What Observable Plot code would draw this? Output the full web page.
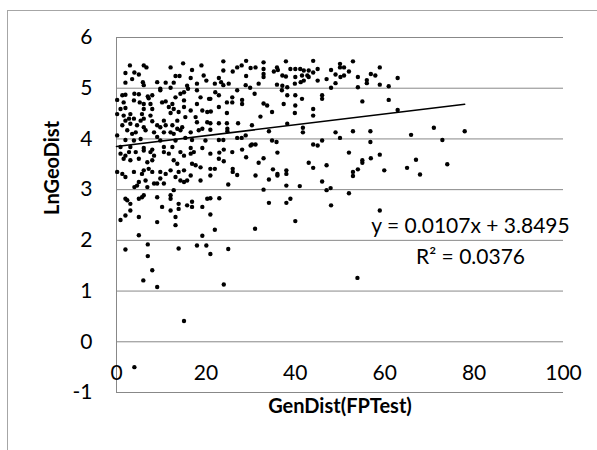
<!DOCTYPE html>
<html><head><meta charset="utf-8">
<script src="https://cdn.jsdelivr.net/npm/d3@7"></script>
<script src="https://cdn.jsdelivr.net/npm/@observablehq/plot@0.6"></script>
<style>
html,body{margin:0;padding:0;background:#fff;overflow:hidden;}
#wrap{position:relative;width:597px;height:450px;}
#chart{position:absolute;left:0;top:0;}
#border{position:absolute;left:7px;top:10px;width:700px;height:600px;border:1px solid #a6a6a6;box-sizing:border-box;pointer-events:none;z-index:2;}
</style></head><body>
<div id="wrap"><div id="chart"></div><div id="border"></div></div>
<script>
// [GenDist(FPTest), LnGeoDist]
const samples = [
[3.0,5.45],[6.1,5.45],[6.7,5.41],[12.1,5.41],[14.9,5.49],[19.0,5.45],[2.0,5.30],[4.0,5.31],[5.0,5.27],[13.2,5.24],[14.1,5.24],[16.9,5.36],[16.6,5.20],[19.5,5.25],[20.1,5.15],[2.0,5.11],[3.5,5.18],[5.9,5.12],[6.1,5.06],[9.1,5.12],[11.0,5.11],[12.8,5.11],[15.8,5.05],[18.0,5.09],[9.8,4.99],[12.1,5.01],
[1.3,4.86],[2.0,4.87],[4.0,4.89],[5.0,4.88],[7.0,4.84],[8.0,4.86],[9.8,4.96],[14.3,4.89],[15.1,4.92],[16.0,4.99],[18.0,4.96],[20.7,4.79],[0.15,4.77],[1.6,4.72],[3.9,4.76],[5.2,4.72],[6.1,4.69],[7.2,4.80],[7.6,4.69],[10.2,4.72],[11.0,4.74],[12.5,4.69],[13.2,4.82],[15.1,4.76],[18.8,4.82],[0.9,4.59],[2.0,4.61],[6.1,4.59],[8.0,4.59],[11.7,4.63],[12.8,4.59],[13.9,4.53],[15.1,4.63],[18.0,4.69],[0.15,4.49],[1.6,4.46],[3.1,4.49],[5.7,4.49],[7.6,4.46],[12.1,4.51],[13.6,4.36],[16.6,4.56],[19.2,4.56],[20.3,4.53],[2.0,4.36],[2.8,4.40],[3.9,4.40],[5.4,4.36],[6.1,4.40],[8.0,4.35],[10.6,4.36],[15.4,4.43],[17.7,4.43],[1.3,4.27],[3.1,4.30],[4.6,4.27],[6.1,4.23],[9.1,4.27],[9.8,4.23],[11.0,4.27],[12.5,4.27],[13.6,4.20],[14.7,4.23],[18.0,4.33],[20.3,4.33],[0.15,4.07],[2.4,4.17],[3.5,4.10],[4.3,4.13],[6.5,4.17],[8.4,4.13],[10.6,4.13],[12.1,4.13],[12.8,4.10],[14.3,4.17],[16.6,4.13],[18.4,4.17],[19.2,4.20],[2.0,3.98],[3.9,3.97],[5.4,4.00],[9.1,4.04],[9.8,3.97],[13.2,3.97],[15.4,4.02],[16.9,3.98],[19.9,3.97],
[0.9,3.84],[3.1,3.84],[6.1,3.82],[8.0,3.79],[10.6,3.84],[12.5,3.84],[16.6,3.82],[19.2,3.82],
[0.9,3.71],[2.0,3.67],[2.8,3.74],[4.3,3.74],[6.1,3.77],[7.6,3.74],[8.4,3.67],[10.6,3.74],[11.7,3.71],[14.3,3.74],[15.1,3.67],[16.6,3.71],[17.3,3.74],[1.6,3.61],[3.1,3.58],[5.0,3.61],[6.9,3.54],[8.0,3.58],[12.8,3.58],[13.6,3.51],[16.9,3.51],[17.7,3.48],[18.8,3.44],[0.15,3.35],[1.3,3.31],[2.0,3.25],[3.9,3.35],[6.1,3.38],[7.2,3.41],[8.0,3.35],[9.8,3.35],[11.0,3.31],[12.1,3.38],[13.2,3.25],[13.9,3.35],[15.1,3.38],[14.3,3.18],[15.1,3.15],[15.8,3.18],[16.6,3.28],[18.8,3.18],[5.0,3.15],[6.5,3.18],[8.4,3.12],[9.1,3.12],[9.8,3.22],[10.6,3.12],[4.0,3.05],[4.6,3.08],[6.9,3.05],[5.7,3.31],
[12.8,2.99],[2.0,2.82],[2.4,2.79],[3.1,2.72],[5.0,2.82],[5.7,2.85],[6.1,2.89],[9.1,2.85],[12.1,2.89],[12.1,2.82],[13.9,2.72],[10.2,2.66],[12.1,2.59],[13.9,2.62],[15.8,2.69],[16.9,2.76],[16.9,2.66],[19.2,2.66],[20.3,2.82],[2.0,2.49],[3.1,2.59],[0.9,2.40],[5.0,2.46],[9.1,2.36],[13.2,2.46],[13.2,2.30],[5.0,2.10],[19.2,2.09],
[2.0,1.82],[7.0,1.92],[7.0,1.69],[8.0,1.41],[6.0,1.21],[9.1,1.08],[13.9,1.84],[18.0,1.90],[20.1,1.90],[21.0,1.73],[25.0,1.83],[24.0,1.13],[15.1,0.41],[4.0,-0.50],[22.0,2.21],[31.0,2.23],
[23.9,5.53],[23.9,5.35],[26.0,5.33],[27.0,5.41],[28.0,5.45],[29.0,5.54],[30.0,5.40],[31.1,5.41],[32.9,5.51],[32.9,5.38],[32.9,5.28],[32.9,5.22],[35.2,5.33],[35.9,5.41],[36.1,5.36],[37.9,5.53],[38.9,5.38],[40.0,5.38],[41.1,5.38],[41.9,5.35],[37.1,5.25],[37.9,5.23],[40.0,5.22],[41.5,5.25],[41.9,5.15],[22.9,5.20],[22.0,5.09],[23.4,5.12],[23.9,5.06],[25.1,5.09],[29.0,5.24],[28.9,5.06],[29.9,5.01],[31.8,5.09],[35.9,5.07],[37.1,5.05],[38.2,5.02],[39.9,5.09],[41.2,5.12],
[22.1,4.92],[22.9,4.86],[21.0,4.79],[30.9,4.89],[27.0,4.96],[37.0,4.96],[38.2,4.86],[40.0,4.86],[41.5,4.79],[25.9,4.82],[25.9,4.72],[24.7,4.72],[28.1,4.77],[28.1,4.69],[22.9,4.63],[32.9,4.70],[33.7,4.66],[37.4,4.69],[40.0,4.66],[24.7,4.51],[34.8,4.53],[39.9,4.51],[21.1,4.54],[32.2,4.44],[21.0,4.31],[22.9,4.31],[24.7,4.31],[27.2,4.31],[24.8,4.20],[24.8,4.15],[30.3,4.27],[34.1,4.15],[38.2,4.30],[41.7,4.22],[41.7,4.13],[21.0,4.18],
[22.9,3.98],[23.9,3.98],[27.0,4.02],[28.0,4.02],[28.9,4.07],[34.8,3.97],[35.8,3.94],[30.3,3.89],[31.1,3.89],
[21.0,3.71],[23.0,3.73],[24.0,3.79],[25.9,3.74],[28.1,3.79],[30.0,3.87],[36.0,3.73],[22.9,3.61],[24.0,3.56],[29.0,3.64],[32.9,3.62],[31.8,3.53],[21.0,3.41],[22.0,3.41],[21.0,3.28],[26.0,3.41],[26.0,3.35],[27.0,3.29],[31.1,3.28],[34.1,3.20],[35.0,3.40],[36.0,3.31],[36.0,3.28],[38.0,3.38],[38.0,3.31],[25.0,3.10],[32.9,3.00],[38.0,3.08],[41.0,3.07],
[21.0,2.83],[23.0,2.83],[21.0,2.51],[34.1,2.74],[38.0,2.74],[38.9,2.82],[40.0,2.38],
[44.0,5.54],[45.0,5.38],[43.0,5.35],[42.7,5.25],[43.0,5.22],[44.0,5.31],[45.0,5.15],[47.0,5.18],[48.0,5.36],[49.0,5.27],[50.0,5.48],[50.0,5.41],[50.1,5.22],[50.9,5.41],[50.9,5.25],[52.0,5.33],[52.9,5.53],[54.0,5.22],[56.0,5.16],[56.0,5.10],[56.9,5.28],[57.9,5.25],[58.9,5.41],[58.9,5.07],[60.9,5.04],[49.0,5.10],[48.0,5.01],[54.0,5.02],
[46.0,4.86],[46.0,4.79],[55.0,4.74],[60.9,4.77],[44.0,4.59],[44.0,4.46],[49.0,4.13],[50.0,4.02],[52.9,4.15],[56.8,4.15],[56.8,3.94],[44.0,3.89],[45.0,3.87],[46.0,3.97],
[52.0,3.73],[43.0,3.53],[44.0,3.43],[47.0,3.48],[55.0,3.58],[55.0,3.53],[56.9,3.62],[58.9,3.69],[54.0,3.40],[52.9,3.35],[52.9,3.27],[59.9,3.38],[46.0,3.16],[47.0,2.99],[47.9,3.03],[52.0,2.93],[48.0,2.69],[58.9,2.59],[53.9,1.26],
[62.9,5.20],[62.9,4.57],[65.9,4.08],[71.0,4.22],[72.9,3.98],[77.9,4.15],[65.0,3.43],[67.0,3.59],[67.9,3.30],[74.0,3.50]
];
const xTicks = [0, 20, 40, 60, 80, 100];
const yTicks = [-1, 0, 1, 2, 3, 4, 5, 6];
const slope = 0.0107, intercept = 3.8495;
const equationLabel = "y = 0.0107x + 3.8495";
const r2Label = "R\u00B2 = 0.0376";
const xTitle = "GenDist(FPTest)";
const yTitle = "LnGeoDist";

const xMax = d3.max(samples, d => d[0]);
const trend = [0, xMax].map(x => ({x, y: slope * x + intercept}));

const chart = Plot.plot({
  width: 597, height: 450,
  marginLeft: 116, marginRight: 34, marginTop: 37, marginBottom: 58,
  x: {domain: [0, 100], axis: null},
  y: {domain: [-1, 6], axis: null},
  style: {fontFamily: "Lato, 'Open Sans', sans-serif", background: "transparent", overflow: "visible", color: "#000"},
  marks: [
    Plot.ruleY(yTicks, {stroke: "#888", strokeWidth: 1}),
    Plot.ruleX([0], {y1: -1, y2: 6, stroke: "#888", strokeWidth: 1}),
    Plot.dot(samples, {x: d => d[0], y: d => d[1], r: 2.2, fill: "#000"}),
    Plot.line(trend, {x: "x", y: "y", stroke: "#000", strokeWidth: 1.5}),
    Plot.text(yTicks, {x: 0, y: d => d, text: d => String(d), textAnchor: "end", dx: -24, fontSize: 21, fill: "#000"}),
    Plot.text(xTicks, {x: d => d, y: 0, text: d => String(d), dy: 31, fontSize: 21, fill: "#000"}),
    Plot.text([yTitle], {frameAnchor: "left", dx: -64, rotate: -90, fontWeight: "bold", fontSize: 20, fill: "#000"}),
    Plot.text([xTitle], {frameAnchor: "bottom", dy: 20, fontWeight: "bold", fontSize: 20, fill: "#000"}),
    Plot.text([equationLabel], {x: 79.2, y: 2.28, fontSize: 21, fill: "#000"}),
    Plot.text([r2Label], {x: 79.2, y: 1.67, fontSize: 21, fill: "#000"})
  ]
});
document.getElementById("chart").appendChild(chart);
</script>
</body></html>
